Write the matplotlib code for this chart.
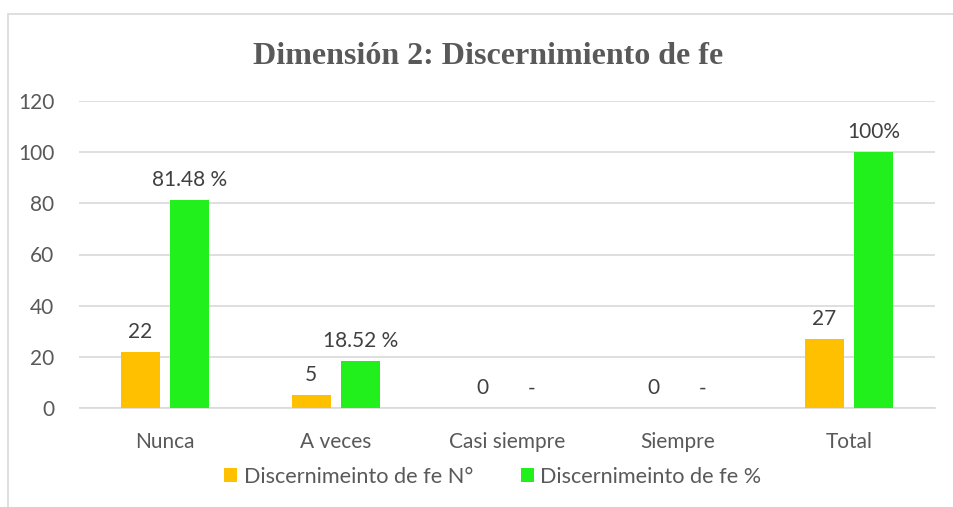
import numpy as np
import matplotlib.pyplot as plt
from matplotlib.patches import Rectangle

# Data
categories = ["Nunca", "A veces", "Casi siempre", "Siempre", "Total"]
counts = [22, 5, 0, 0, 27]
percents = [81.48, 18.52, 0, 0, 100]
count_labels = ["22", "5", "0", "0", "27"]
percent_labels = ["81.48 %", "18.52 %", "-", "-", "100%"]

ORANGE = "#FFC000"
GREEN = "#22F01C"
GRID = "#D9D9D9"
TEXT = "#595959"
LABEL = "#404040"

plt.rcParams['font.family'] = ['Lato', 'DejaVu Sans']

fig = plt.figure(figsize=(9.54, 5.07), dpi=100)
ax = fig.add_axes([79.5 / 954, 1 - 408 / 507, (934.5 - 79.5) / 954, (408 - 101) / 507])

# chart border (runs off the right and bottom edges)
fig.patches.append(Rectangle((8 / 954, -0.05), 1.2, 1 - 14 / 507 + 0.05,
                             transform=fig.transFigure, fill=False,
                             edgecolor=GRID, linewidth=1.2))

x = np.arange(len(categories))
w = 0.227
off = 0.145
b1 = ax.bar(x - off, counts, w, color=ORANGE, label="Discernimeinto de fe N°", zorder=3)
b2 = ax.bar(x + off, percents, w, color=GREEN, label="Discernimeinto de fe %", zorder=3)

for rect, lab in zip(b1, count_labels):
    ax.annotate(lab, (rect.get_x() + rect.get_width() / 2, rect.get_height()),
                xytext=(0, 7), textcoords="offset points", ha="center", va="bottom",
                fontsize=15, color=LABEL)
for rect, lab in zip(b2, percent_labels):
    ax.annotate(lab, (rect.get_x() + rect.get_width() / 2, rect.get_height()),
                xytext=(0, 7), textcoords="offset points", ha="center", va="bottom",
                fontsize=15, color=LABEL)

ax.set_xlim(-0.5, len(categories) - 0.5)
ax.set_ylim(0, 120)
ax.set_yticks(range(0, 121, 20))
ax.set_xticks(x)
ax.set_xticklabels(categories)
ax.tick_params(axis="both", length=0, labelsize=15, colors=TEXT)
ax.tick_params(axis="x", pad=17)
ax.tick_params(axis="y", pad=18)
ax.yaxis.grid(True, color=GRID, linewidth=1.2, zorder=0)
for s in ["left", "right", "top"]:
    ax.spines[s].set_visible(False)
ax.spines["bottom"].set_color(GRID)
ax.spines["bottom"].set_linewidth(1.2)

fig.text(488 / 954, 1 - 57 / 507, "Dimensión 2: Discernimiento de fe",
         ha="center", va="center", fontsize=23, fontweight="bold",
         family="Liberation Serif", color=TEXT)

fig.legend(loc="center", bbox_to_anchor=(493 / 954, 1 - 477 / 507), ncol=2,
           frameon=False, fontsize=15.6, labelcolor=TEXT, handlelength=0.6,
           handleheight=0.6, handletextpad=0.3, columnspacing=2.2)

fig.savefig("out.png", dpi=100)
